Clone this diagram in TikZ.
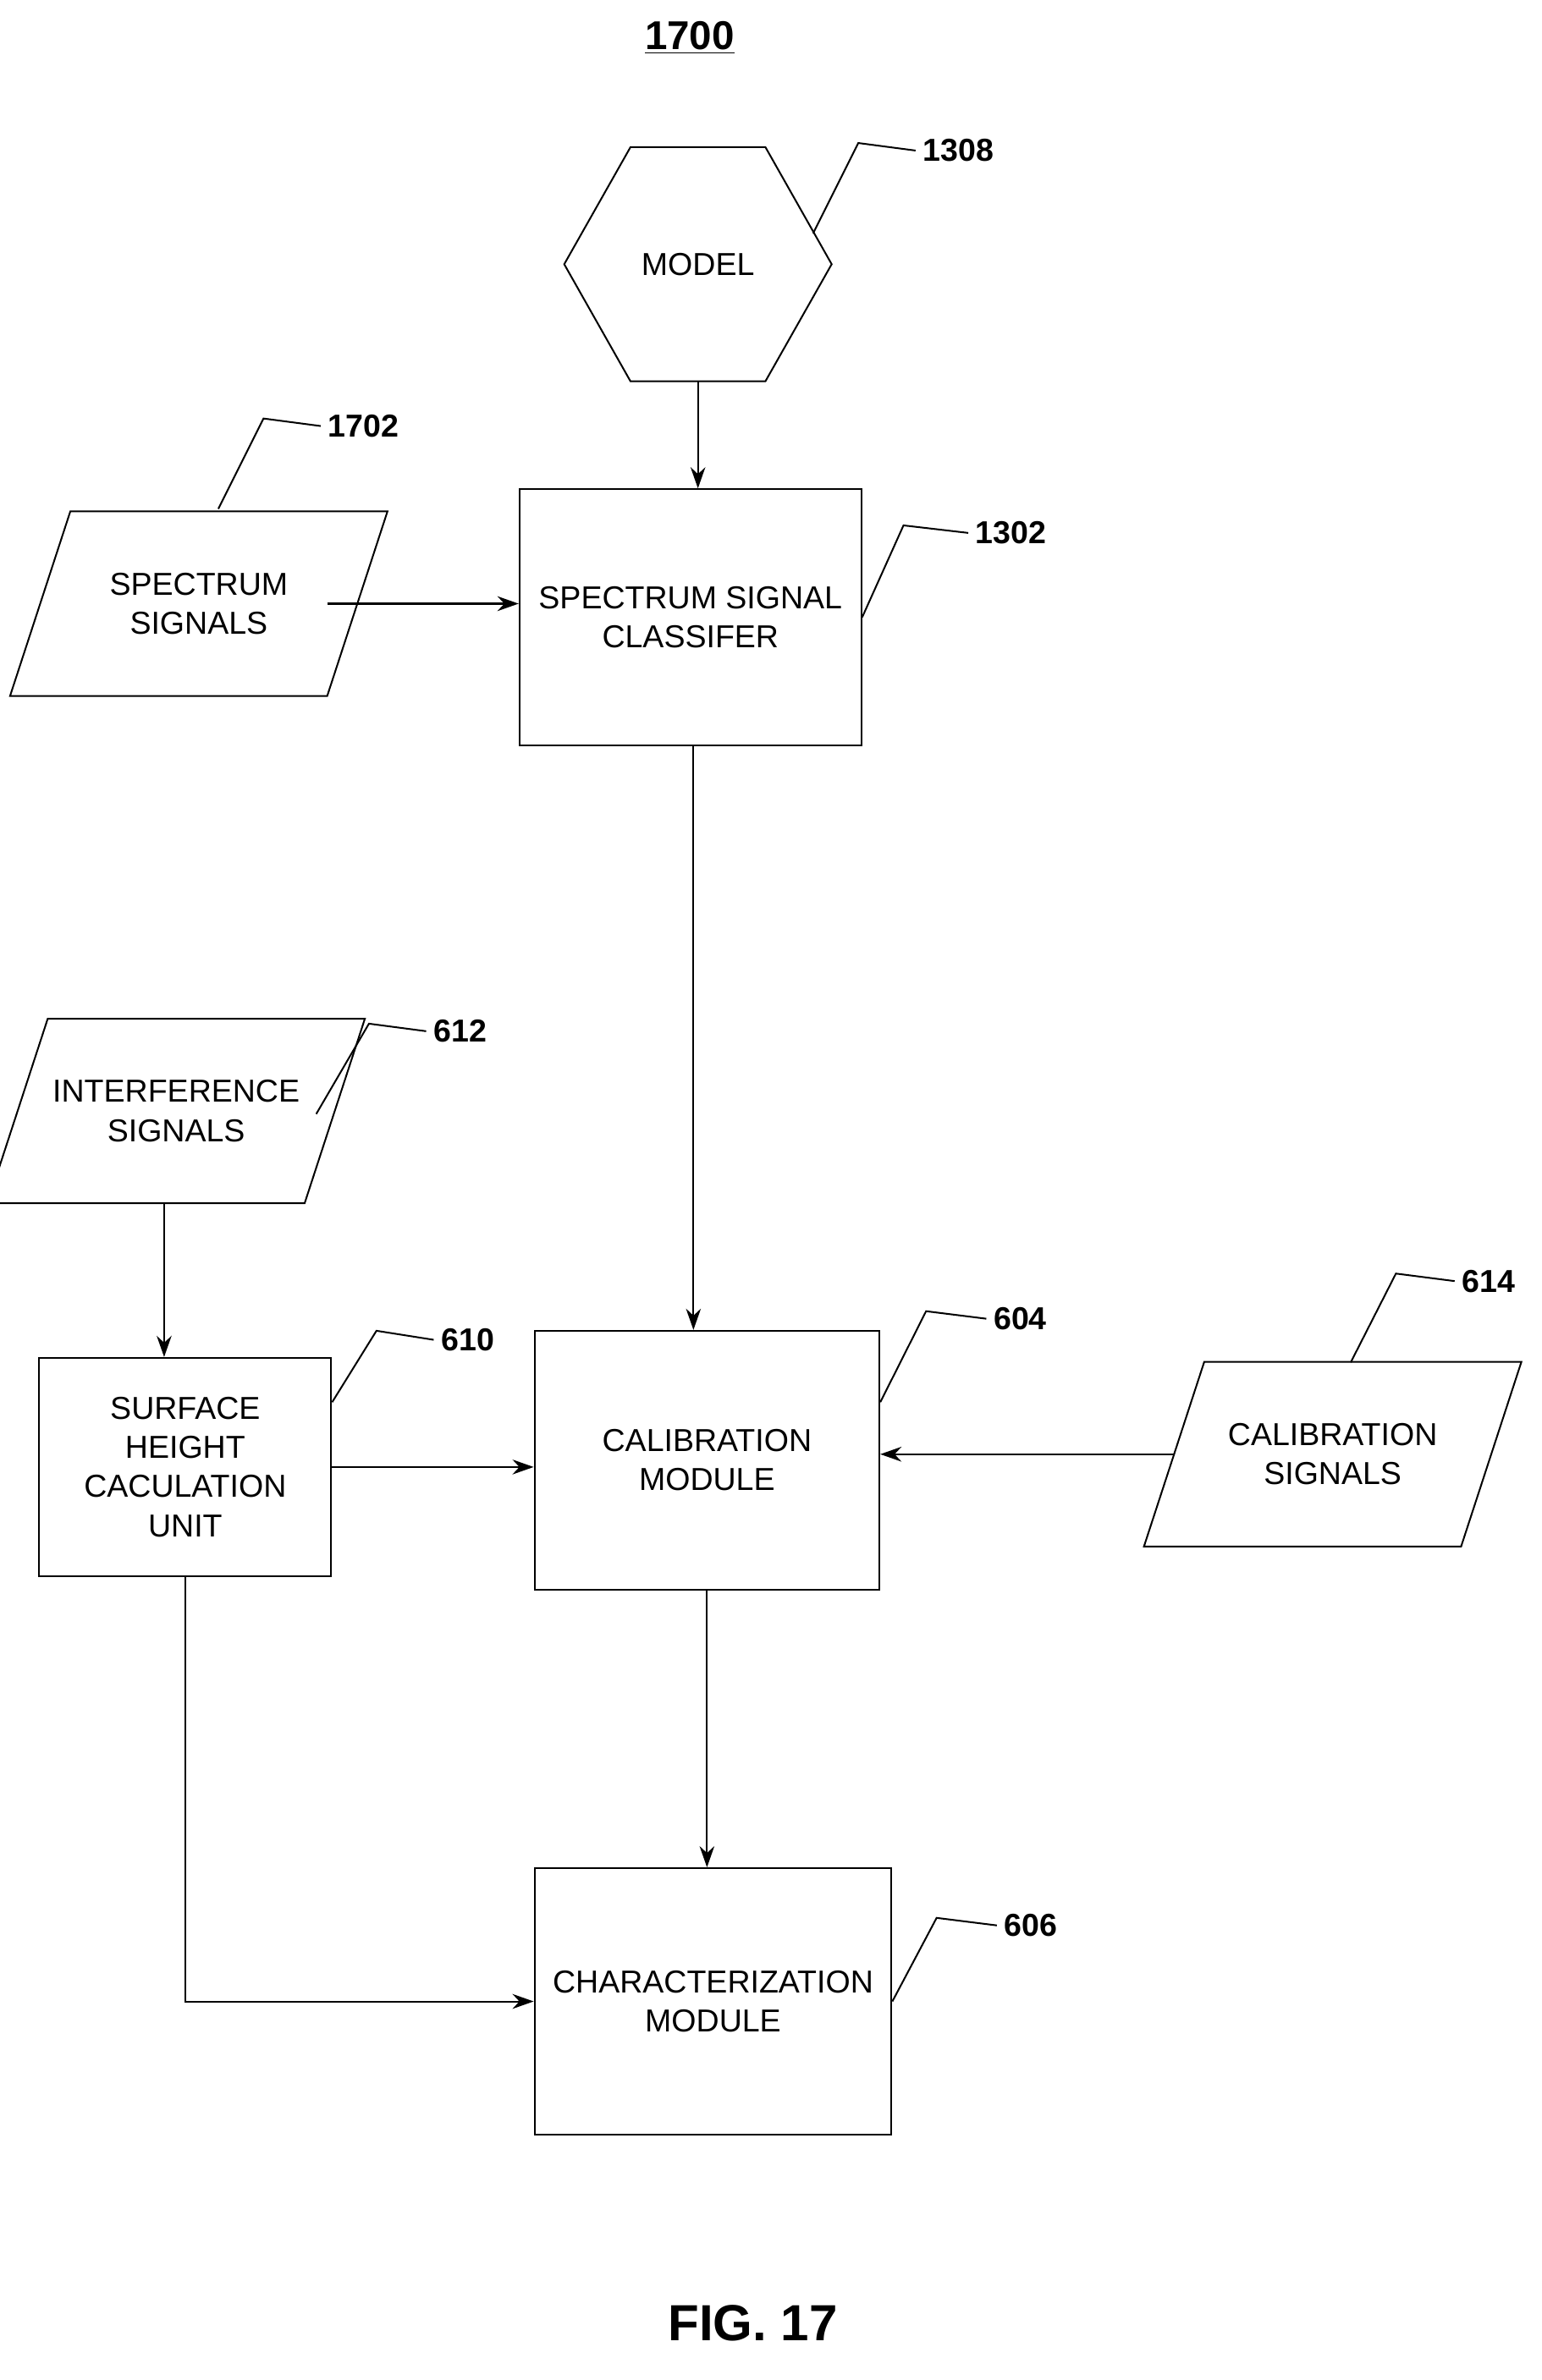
\documentclass[tikz,border=0pt]{standalone}
\usepackage{fontspec}
\setmainfont{Liberation Sans}
\usetikzlibrary{arrows.meta}

\tikzset{
    box/.style={draw,thick,minimum width=#1,align=center,inner sep=2pt},
    blk/.style={draw=none,align=center,inner sep=0pt},
    ref/.style={anchor=west,font=\fontsize{15}{18}\selectfont\bfseries},
    lead/.style={thick},
    flow/.style={thick,-{Stealth[length=10pt,width=7pt]}}
}

\begin{document}
\begin{tikzpicture}[x=0.025cm,y=-0.025cm,font=\fontsize{15}{18.5}\selectfont]
    \useasboundingbox (0,0) rectangle (1024,1581);
    % title
    \node[font=\fontsize{19}{22}\selectfont\bfseries] (title) at (458,25) {\underline{1700}};
    % model hexagon
    \node[blk,minimum width=4.425cm,minimum height=3.875cm] (model) at (463.5,175.5) {MODEL};
    \draw[thick] (model.west) -- ([xshift=1.1cm]model.north west) -- ([xshift=-1.1cm]model.north east)
        -- (model.east) -- ([xshift=-1.1cm]model.south east) -- ([xshift=1.1cm]model.south west) -- cycle;
    % classifier
    \node[box=5.675cm,minimum height=4.25cm] (clas) at (458.5,410) {SPECTRUM SIGNAL\\CLASSIFER};
    % spectrum signals
    \node[blk,minimum width=4.75cm,minimum height=3.05cm] (spec) at (132,401) {SPECTRUM\\SIGNALS};
    \draw[thick] ([xshift=0.25cm]spec.north west) -- ([xshift=0.75cm]spec.north east)
        -- ([xshift=-0.25cm]spec.south east) -- ([xshift=-0.75cm]spec.south west) -- cycle;
    % interference signals
    \node[blk,minimum width=4.75cm,minimum height=3.05cm] (intf) at (117,738) {INTERFERENCE\\SIGNALS};
    \draw[thick] ([xshift=0.25cm]intf.north west) -- ([xshift=0.75cm]intf.north east)
        -- ([xshift=-0.25cm]intf.south east) -- ([xshift=-0.75cm]intf.south west) -- cycle;
    % surface height unit
    \node[box=4.85cm,minimum height=3.625cm] (surf) at (123,974.5) {SURFACE\\HEIGHT\\CACULATION\\UNIT};
    % calibration module
    \node[box=5.725cm,minimum height=4.3cm] (calib) at (469.5,970) {CALIBRATION\\MODULE};
    % calibration signals
    \node[blk,minimum width=4.75cm,minimum height=3.05cm] (csig) at (885,966) {CALIBRATION\\SIGNALS};
    \draw[thick] ([xshift=0.25cm]csig.north west) -- ([xshift=0.75cm]csig.north east)
        -- ([xshift=-0.25cm]csig.south east) -- ([xshift=-0.75cm]csig.south west) -- cycle;
    % characterization module
    \node[box=5.925cm,minimum height=4.425cm] (char) at (473.5,1329.5) {CHARACTERIZATION\\MODULE};

    % reference numerals
    \node[ref] (r1308) at (608,100) {1308};
    \node[ref] (r1302) at (643,354) {1302};
    \node[ref] (r1702) at (213,283) {1702};
    \node[ref] (r612) at (283,685) {612};
    \node[ref] (r610) at (288,890) {610};
    \node[ref] (r604) at (655,876) {604};
    \node[ref] (r614) at (966,851) {614};
    \node[ref] (r606) at (662,1279) {606};
    \draw[lead] (540,155) -- (570,95) -- (r1308.west);
    \draw[lead] (clas.east) -- (600,349) -- (r1302.west);
    \draw[lead] (145,338) -- (175,278) -- (r1702.west);
    \draw[lead] (210,740) -- (245,680) -- (r612.west);
    \draw[lead] ([yshift=-0.75cm]surf.north east) -- (250,884) -- (r610.west);
    \draw[lead] ([yshift=-1.2cm]calib.north east) -- (615,871) -- (r604.west);
    \draw[lead] (897,905) -- (927,846) -- (r614.west);
    \draw[lead] (char.east) -- (622,1274) -- (r606.west);

    % connectors
    \draw[flow] (model.south) -- (model.south |- clas.north);
    \draw[flow] ([xshift=-0.25cm]spec.east) -- (clas.west |- spec.east);
    \draw[flow] ([xshift=0.05cm]clas.south) -- ([xshift=0.05cm]clas.south |- calib.north);
    \draw[flow] ([xshift=-0.2cm]intf.south) -- ([xshift=-0.2cm]intf.south |- surf.north);
    \draw[flow] (surf.east) -- (calib.west |- surf.east);
    \draw[flow] ([xshift=-0.25cm]csig.west) -- (calib.east |- csig.west);
    \draw[flow] (calib.south) -- (calib.south |- char.north);
    \draw[flow] (surf.south) |- (char.west);

    \node[font=\fontsize{24}{28}\selectfont\bfseries] (fig) at (500,1543) {FIG. 17};
\end{tikzpicture}
\end{document}
